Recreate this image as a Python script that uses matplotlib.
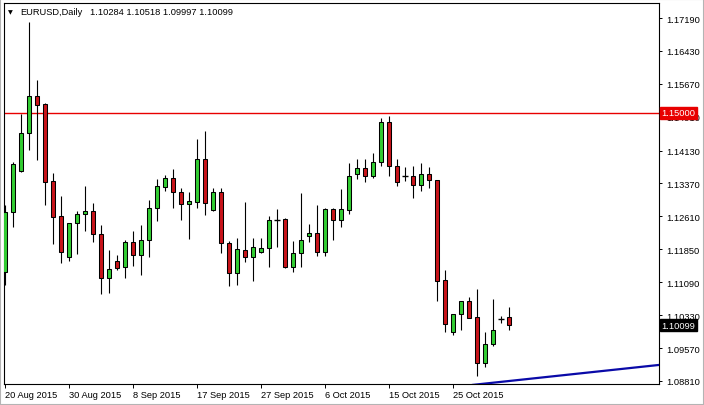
#!/usr/bin/env python3
from __future__ import annotations

import matplotlib

matplotlib.use("Agg")
import matplotlib.pyplot as plt
from matplotlib.axes import Axes
from matplotlib.patches import Rectangle
from matplotlib.transforms import blended_transform_factory

# daily EURUSD bars, one per trading day (MT4 shows the Sunday stubs too)
opens = [
    1.1133, 1.1271, 1.1366, 1.1454, 1.1539, 1.1521, 1.1343, 1.1262, 1.1167, 1.1246,
    1.1267, 1.1273, 1.1220, 1.1119, 1.1158, 1.1144, 1.1202, 1.1172, 1.1206, 1.1280,
    1.1329, 1.1350, 1.1317, 1.1290, 1.1294, 1.1394, 1.1276, 1.1317, 1.1200, 1.1130,
    1.1183, 1.1167, 1.1179, 1.1188, 1.1253, 1.1255, 1.1144, 1.1176, 1.1216, 1.1223,
    1.1179, 1.1278, 1.1253, 1.1276, 1.1359, 1.1373, 1.1354, 1.1387, 1.1479, 1.1377,
    1.1354, 1.1354, 1.1333, 1.1359, 1.1345, 1.1114, 1.0994, 1.1036, 1.1066, 1.1029,
    1.0922, 1.0966, 1.1024, 1.10284,
]
highs = [
    1.1287, 1.1387, 1.1497, 1.1710, 1.1576, 1.1523, 1.1361, 1.1308, 1.1246, 1.1273,
    1.1331, 1.1292, 1.1241, 1.1183, 1.1172, 1.1206, 1.1227, 1.1241, 1.1299, 1.1347,
    1.1357, 1.1370, 1.1327, 1.1317, 1.1440, 1.1458, 1.1327, 1.1327, 1.1204, 1.1211,
    1.1294, 1.1211, 1.1211, 1.1262, 1.1278, 1.1257, 1.1204, 1.1315, 1.1243, 1.1287,
    1.1280, 1.1280, 1.1324, 1.1384, 1.1394, 1.1394, 1.1407, 1.1488, 1.1493, 1.1394,
    1.1375, 1.1377, 1.1384, 1.1375, 1.1346, 1.1137, 1.1036, 1.1066, 1.1075, 1.1093,
    1.0994, 1.1070, 1.1031, 1.10518,
]
lows = [
    1.1103, 1.1237, 1.1363, 1.1414, 1.1391, 1.1287, 1.1197, 1.1153, 1.1158, 1.1174,
    1.1227, 1.1202, 1.1082, 1.1084, 1.1137, 1.1119, 1.1146, 1.1126, 1.1167, 1.1250,
    1.1320, 1.1280, 1.1253, 1.1209, 1.1280, 1.1264, 1.1273, 1.1176, 1.1100, 1.1103,
    1.1156, 1.1112, 1.1176, 1.1144, 1.1190, 1.1142, 1.1133, 1.1144, 1.1202, 1.1170,
    1.1170, 1.1206, 1.1237, 1.1267, 1.1347, 1.1340, 1.1350, 1.1377, 1.1354, 1.1331,
    1.1343, 1.1303, 1.1320, 1.1327, 1.1066, 1.0994, 1.0987, 1.0999, 1.1026, 1.0892,
    1.0913, 1.0962, 1.1015, 1.09997,
]
closes = [
    1.1271, 1.1382, 1.1454, 1.1539, 1.1518, 1.1340, 1.1260, 1.1179, 1.1246, 1.1267,
    1.1273, 1.1220, 1.1119, 1.1140, 1.1142, 1.1202, 1.1172, 1.1206, 1.1280, 1.1331,
    1.1350, 1.1317, 1.1290, 1.1297, 1.1394, 1.1292, 1.1317, 1.1200, 1.1130, 1.1186,
    1.1167, 1.1190, 1.1188, 1.1253, 1.1253, 1.1144, 1.1176, 1.1206, 1.1223, 1.1179,
    1.1278, 1.1253, 1.1278, 1.1354, 1.1373, 1.1354, 1.1387, 1.1479, 1.1377, 1.1340,
    1.1354, 1.1333, 1.1359, 1.1345, 1.1112, 1.1013, 1.1036, 1.1066, 1.1026, 1.0922,
    1.0966, 1.0999, 1.1024, 1.10099,
]

date_ticks = [0, 8, 16, 24, 32, 40, 48, 56]
date_labels = [
    "20 Aug 2015", "30 Aug 2015", "8 Sep 2015", "17 Sep 2015",
    "27 Sep 2015", "6 Oct 2015", "15 Oct 2015", "25 Oct 2015",
]
price_ticks = [
    1.17190, 1.16430, 1.15670, 1.14910, 1.14130, 1.13370,
    1.12610, 1.11850, 1.11090, 1.10330, 1.09570, 1.08810,
]

resistance = 1.15000
trend_x = [58.5, 81.75]
trend_y = [1.0872, 1.0918]

UP = "#32cd32"
DOWN = "#c8141a"
LEVEL = "#e80000"
FONT = "Liberation Sans"
FS = 6.7


def draw_candles(ax: Axes) -> None:
    for i, (o, h, l, c) in enumerate(zip(opens, highs, lows, closes)):
        ax.vlines(i, l, h, color="black", linewidth=0.8, zorder=2)
        if abs(c - o) < 1e-6:
            ax.hlines(o, i - 0.32, i + 0.32, color="black", linewidth=1.0, zorder=3)
            continue
        ax.bar(
            i, abs(c - o), bottom=min(o, c), width=0.58,
            color=UP if c > o else DOWN, edgecolor="black", linewidth=0.75, zorder=3,
        )


def price_tag(ax: Axes, price: float, color: str) -> None:
    trans = blended_transform_factory(ax.transAxes, ax.transData)
    ax.text(
        1.004, price, f"{price:.5f}", transform=trans, ha="left", va="center",
        color="white", fontsize=FS, family=FONT, clip_on=False, zorder=10,
        bbox=dict(facecolor=color, edgecolor=color, boxstyle="square,pad=0.18"),
    )


def main() -> None:
    fig = plt.figure(figsize=(7.04, 4.06), dpi=100)
    ax = fig.add_axes([4 / 704, 1 - 385 / 406, 655 / 704, 381 / 406])

    draw_candles(ax)
    ax.axhline(resistance, color=LEVEL, linewidth=1.0, zorder=1)
    ax.plot(trend_x, trend_y, color="#0a0aa8", linewidth=1.6, zorder=4)

    ax.set_xlim(-0.125, 81.75)
    ax.set_ylim(1.08740, 1.17537)

    ax.yaxis.tick_right()
    ax.set_yticks(price_ticks)
    ax.set_yticklabels([f"{p:.5f}" for p in price_ticks])
    ax.set_xticks(date_ticks)
    ax.set_xticklabels(date_labels)
    ax.tick_params(axis="y", length=2.5, width=0.7, pad=2.5, labelsize=FS)
    ax.tick_params(axis="x", length=3, width=0.7, pad=1.5, labelsize=FS)
    for label in ax.get_xticklabels() + ax.get_yticklabels():
        label.set_family(FONT)
    for label in ax.get_xticklabels():
        label.set_horizontalalignment("left")
    for spine in ax.spines.values():
        spine.set_color("black")
        spine.set_linewidth(0.8)

    price_tag(ax, resistance, LEVEL)
    price_tag(ax, closes[-1], "black")

    fig.text(8 / 704, 1 - 12.5 / 406, "▼", fontsize=4.5, va="center", ha="left")
    fig.text(20 / 704, 1 - 12.5 / 406, "EURUSD,Daily", fontsize=FS, family=FONT,
             va="center", ha="left")
    ohlc = f"{opens[-1]:.5f} {highs[-1]:.5f} {lows[-1]:.5f} {closes[-1]:.5f}"
    fig.text(90 / 704, 1 - 12.5 / 406, ohlc, fontsize=FS, family=FONT,
             va="center", ha="left")

    fig.patches.append(Rectangle((0, 0), 1, 1, transform=fig.transFigure, fill=False,
                                 edgecolor="#b4b4b4", linewidth=1.5))

    fig.savefig("out.png", dpi=100)
    plt.close(fig)


if __name__ == "__main__":
    main()
